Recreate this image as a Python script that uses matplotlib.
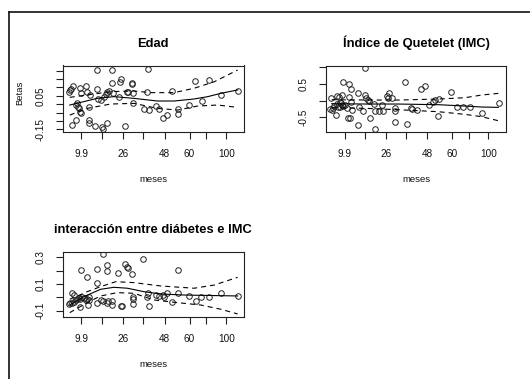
import matplotlib
matplotlib.use("Agg")
import matplotlib.pyplot as plt
from matplotlib.lines import Line2D

plt.rcParams['font.family'] = ['Liberation Sans', 'DejaVu Sans']

# ---- shared x axis (transformed time scale) ----
x_ticks = [10.3, 21.9, 33.3, 44.6, 56.2, 70.0, 79.2, 90.2]
x_ticklabels = ["9.9", "", "26", "", "48", "60", "", "100"]

# ---- Panel 1: Edad ----
edad_x = [3.5, 4.0, 4.8, 5.9, 5.4, 7.2, 7.2, 8.1, 8.5, 9.0, 9.9, 10.3, 9.6, 10.3,
          12.7, 13.6, 14.5, 14.5, 14.5, 15.1, 17.8, 18.8, 19.2, 19.5, 21.0, 21.9,
          22.5, 22.8, 23.8, 24.7, 24.7, 25.6, 27.5, 27.5, 28.0, 31.1, 31.7, 32.4,
          34.3, 35.4, 36.1, 38.5, 38.5, 39.1, 39.1, 44.9, 46.4, 47.1, 47.7, 51.4,
          53.2, 55.6, 57.8, 60.6, 63.4, 63.4, 69.8, 72.9, 76.6, 80.8, 87.3, 96.5]
edad_y = [0.075, 0.085, 0.089, 0.109, -0.124, -0.095, -0.005, 0.005, -0.015, -0.025,
          -0.045, -0.055, 0.095, 0.065, 0.109, 0.075, -0.015, -0.095, -0.114, 0.055,
          -0.130, 0.204, 0.089, 0.029, 0.025, -0.135, -0.150, 0.045, 0.061, 0.075,
          -0.114, 0.081, 0.204, 0.125, 0.069, 0.041, 0.134, 0.149, -0.130, 0.075,
          0.075, 0.128, 0.119, 0.065, 0.005, -0.031, 0.075, 0.210, -0.035, -0.011,
          -0.031, -0.084, -0.065, 0.081, -0.031, -0.059, -0.005, 0.140, 0.021, 0.144,
          0.055, 0.081]
edad_fit_x = [4.0, 19.2, 28.3, 39.2, 52.3, 61.5, 72.4, 80.0, 87.3, 96.5]
edad_fit_y = [-0.005, 0.035, 0.045, 0.035, 0.019, 0.019, 0.031, 0.045, 0.065, 0.085]
edad_up_x = [4.0, 13.6, 26.5, 39.4, 48.6, 61.5, 72.5, 83.6, 96.5]
edad_up_y = [0.041, 0.055, 0.075, 0.079, 0.069, 0.069, 0.095, 0.134, 0.204]
edad_lo_x = [4.0, 13.6, 26.5, 39.4, 52.3, 63.4, 74.4, 85.5, 96.5]
edad_lo_y = [-0.065, -0.025, 0.001, 0.005, -0.025, -0.035, -0.011, -0.005, -0.019]
edad_yticks = [-0.15, -0.10, -0.05, 0.0, 0.05, 0.10, 0.15, 0.20]
edad_yticklabels = ["-0.15", "", "", "", "0.05", "", "", ""]

# ---- Panel 2: Indice de Quetelet (IMC) ----
imc_x = [2.8, 2.2, 3.2, 4.1, 4.6, 5.6, 5.9, 7.4, 8.7, 6.3, 6.8, 7.8, 8.7, 7.8, 8.2,
         9.6, 9.6, 10.6, 11.5, 12.4, 13.3, 12.9, 13.7, 13.7, 12.9, 14.3, 17.9, 17.9,
         18.5, 20.4, 21.7, 21.7, 22.2, 23.5, 24.1, 24.4, 26.7, 27.2, 27.2, 29.6,
         30.9, 31.8, 33.7, 35.2, 34.6, 36.5, 38.3, 38.3, 38.3, 43.9, 45.2, 47.1,
         47.6, 50.7, 52.6, 55.0, 57.2, 59.6, 60.6, 62.4, 62.8, 69.3, 72.6, 76.3,
         80.0, 86.5, 96.1]
imc_y = [0.072, -0.258, -0.279, -0.228, -0.15, -0.429, 0.141, 0.12, 0.171, -0.099,
         -0.18, -0.18, -0.129, -0.03, -0.06, 0.561, -0.159, -0.129, -0.228, -0.51,
         -0.51, 0.492, 0.342, -0.03, 0.12, -0.279, 0.24, -0.729, -0.198, -0.3, 0.972,
         0.171, 0.072, 0.021, -0.009, -0.528, -0.099, -0.849, -0.3, -0.3, -0.129,
         -0.3, 0.15, 0.222, 0.072, 0.072, -0.228, -0.309, -0.63, 0.552, -0.699,
         -0.21, -0.24, -0.279, 0.351, 0.441, -0.129, -0.03, 0.021, -0.459, 0.051,
         0.27, -0.198, -0.198, -0.18, -0.378, -0.06]
imc_fit_x = [3.2, 22.6, 40.2, 62.4, 77.2, 86.5, 95.7]
imc_fit_y = [-0.09, -0.10, -0.10, -0.12, -0.16, -0.19, -0.20]
imc_up_x = [3.2, 22.6, 40.2, 62.4, 77.2, 86.5, 95.7]
imc_up_y = [0.03, 0.02, 0.02, 0.05, 0.09, 0.17, 0.22]
imc_lo_x = [3.2, 22.6, 40.2, 62.4, 77.2, 86.5, 95.7]
imc_lo_y = [-0.21, -0.23, -0.27, -0.33, -0.41, -0.48, -0.60]
imc_yticks = [-0.5, 0.0, 0.5, 1.0]
imc_yticklabels = ["-0.5", "", "0.5", ""]

# ---- Panel 3: interaccion entre diabetes e IMC ----
int_x = [3.5, 4.4, 5.4, 6.2, 7.2, 8.1, 9.0, 9.9, 10.9, 11.8, 12.7, 13.6, 14.5, 14.5,
         5.0, 6.2, 9.9, 10.3, 13.6, 14.0, 18.8, 19.2, 19.2, 21.0, 22.5, 22.5, 24.3,
         24.7, 24.7, 25.0, 27.5, 27.5, 30.6, 32.0, 33.0, 34.3, 35.4, 36.1, 38.5,
         39.1, 39.1, 39.1, 44.6, 46.4, 47.1, 47.7, 51.4, 53.2, 55.1, 56.0, 57.8,
         60.6, 63.4, 63.7, 69.8, 73.5, 76.2, 80.7, 87.3, 96.5]
int_y = [-0.050, -0.045, -0.041, -0.033, -0.020, -0.015, -0.008, -0.015, 0.005,
         -0.008, -0.020, -0.015, 0.0, -0.020, 0.035, 0.017, -0.075, 0.205, 0.15,
         -0.058, 0.105, 0.21, -0.041, -0.020, -0.026, 0.325, -0.045, 0.242, 0.2,
         -0.026, -0.026, -0.058, 0.18, -0.065, -0.065, 0.25, 0.23, 0.218, 0.173,
         0.005, -0.015, -0.053, 0.285, 0.0, 0.03, -0.065, 0.017, 0.01, 0.017, 0.0,
         0.03, -0.033, 0.205, 0.035, 0.01, -0.028, 0.005, 0.0, 0.035, 0.012]
int_fit_x = [4.0, 11.8, 21.0, 28.3, 35.8, 44.9, 54.1, 67.0, 96.5]
int_fit_y = [-0.058, 0.005, 0.06, 0.075, 0.068, 0.042, 0.025, 0.017, 0.01]
int_up_x = [4.0, 13.6, 21.0, 29.3, 39.4, 54.1, 72.5, 83.6, 96.5]
int_up_y = [-0.015, 0.042, 0.08, 0.117, 0.11, 0.085, 0.068, 0.092, 0.15]
int_lo_x = [4.0, 13.6, 21.0, 30.2, 39.4, 50.4, 63.4, 76.2, 87.3, 96.5]
int_lo_y = [-0.115, -0.04, 0.01, 0.035, 0.03, -0.02, -0.04, -0.058, -0.09, -0.125]
int_yticks = [-0.1, 0.0, 0.1, 0.2, 0.3]
int_yticklabels = ["-0.1", "", "0.1", "", "0.3"]

titles = ["Edad", "Índice de Quetelet (IMC)", "interacción entre diábetes e IMC"]
xlabel = "meses"
ylabel = "Betas"

W, H = 530, 379
fig = plt.figure(figsize=(W / 100, H / 100), dpi=100)
fig.patch.set_facecolor("white")


def box(l, t, r, b):
    return [l / W, 1 - b / H, (r - l) / W, (b - t) / H]


panels = [
    (box(62.5, 65.5, 244, 131.5), edad_x, edad_y, edad_fit_x, edad_fit_y, edad_up_x,
     edad_up_y, edad_lo_x, edad_lo_y, edad_yticks, edad_yticklabels, (-0.163, 0.231), 180),
    (box(326, 65.7, 506, 131.7), imc_x, imc_y, imc_fit_x, imc_fit_y, imc_up_x,
     imc_up_y, imc_lo_x, imc_lo_y, imc_yticks, imc_yticklabels, (-0.93, 1.05), 179),
    (box(62.5, 251.7, 244, 316.7), int_x, int_y, int_fit_x, int_fit_y, int_up_x,
     int_up_y, int_lo_x, int_lo_y, int_yticks, int_yticklabels, (-0.1455, 0.342), 364.5),
]

for i, (pos, px, py, fx, fy, ux, uy, lx, ly, yt, ytl, ylim, xlab_y) in enumerate(panels):
    ax = fig.add_axes(pos)
    ax.plot(px, py, linestyle="none", marker="o", ms=4, mfc="none", mec="#222222", mew=0.7)
    ax.plot(fx, fy, color="black", lw=0.8)
    ax.plot(ux, uy, color="black", lw=0.8, dashes=(4.5, 3.6))
    ax.plot(lx, ly, color="black", lw=0.8, dashes=(4.5, 3.6))
    ax.set_xlim(0, 100)
    ax.set_ylim(*ylim)
    ax.set_xticks(x_ticks)
    ax.set_xticklabels(x_ticklabels)
    ax.set_yticks(yt)
    ax.set_yticklabels(ytl)
    for s in ax.spines.values():
        s.set_linewidth(0.8)
        s.set_color("#222222")
    ax.tick_params(axis="both", direction="out", length=4.8, width=0.8, color="#222222",
                   labelsize=7.2, labelcolor="#111111")
    ax.tick_params(axis="x", pad=7.5)
    ax.tick_params(axis="y", pad=7.5)
    plt.setp(ax.get_yticklabels(), rotation=90, va="center")
    ax.set_title(titles[i], fontsize=9.3, fontweight="bold", pad=13.5, color="black")
    cx = pos[0] + pos[2] / 2
    fig.text(cx, 1 - xlab_y / H, xlabel, ha="center", va="center", fontsize=6.8,
             color="#111111")

fig.text(20 / W, 1 - 92.5 / H, ylabel, rotation=90, ha="center", va="center",
         fontsize=6.8, color="#111111")

# outer frame (top and left edges of the device window)
fig.add_artist(Line2D([9.3 / W, 1.0], [1 - 11.8 / H, 1 - 11.8 / H],
                      transform=fig.transFigure, color="#111111", lw=1.2))
fig.add_artist(Line2D([9.3 / W, 9.3 / W], [1 - 11.8 / H, 0.0],
                      transform=fig.transFigure, color="#111111", lw=1.2))

fig.savefig("out.png", dpi=100, facecolor="white")
